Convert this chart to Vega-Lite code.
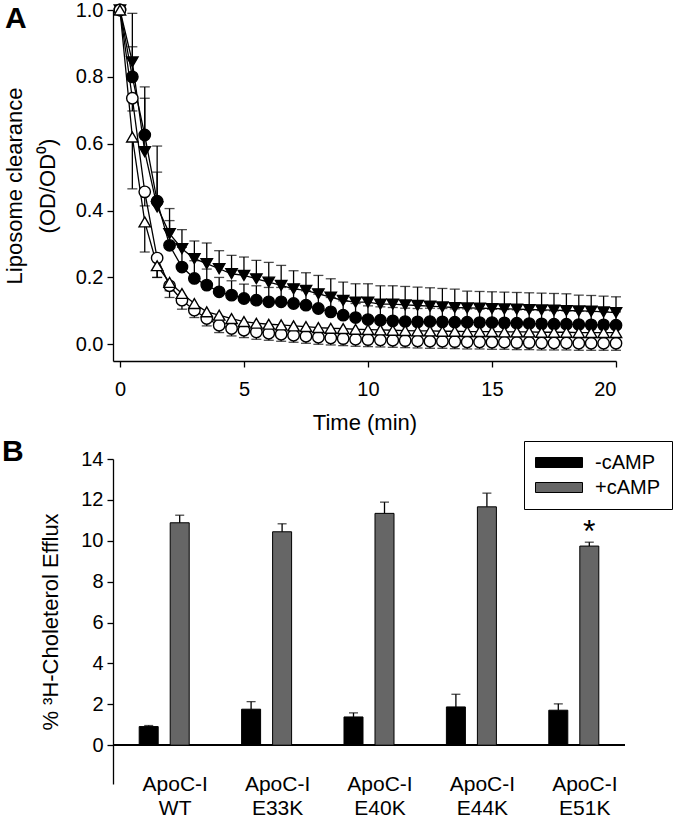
{
"$schema": "https://vega.github.io/schema/vega-lite/v6.json",
"padding": {"left": 2, "top": 0, "right": 2, "bottom": 0},
"spacing": 3,
"resolve": {"scale": {"fill": "independent", "shape": "independent"}, "legend": {"fill": "independent", "shape": "independent"}},
"config": {"font": "Liberation Sans", "view": {"stroke": null},
 "axis": {"domainColor": "black", "tickColor": "black", "labelColor": "black", "titleColor": "black", "labelFontSize": 20, "titleFontSize": 22, "titleFontWeight": "normal", "grid": false, "tickSize": 6, "labelPadding": 4, "domainWidth": 1.3, "tickWidth": 1.3}},
"datasets": {
"curves": [
{"s":"S1","t":0,"v":1.0,"e":1.0},{"s":"S1","t":0.5,"v":0.80,"e":0.99},{"s":"S1","t":1,"v":0.626,"e":0.77},{"s":"S1","t":1.5,"v":0.428,"e":0.593},{"s":"S1","t":2,"v":0.296,"e":0.37},{"s":"S1","t":2.5,"v":0.231,"e":0.29},{"s":"S1","t":3,"v":0.197,"e":0.25},{"s":"S1","t":3.5,"v":0.177,"e":0.225},{"s":"S1","t":4,"v":0.157,"e":0.2},{"s":"S1","t":4.5,"v":0.147,"e":0.19},{"s":"S1","t":5,"v":0.137,"e":0.18},{"s":"S1","t":5.5,"v":0.132,"e":0.175},{"s":"S1","t":6,"v":0.127,"e":0.17},{"s":"S1","t":6.5,"v":0.127,"e":0.17},{"s":"S1","t":7,"v":0.122,"e":0.165},{"s":"S1","t":7.5,"v":0.117,"e":0.16},{"s":"S1","t":8,"v":0.107,"e":0.15},{"s":"S1","t":8.5,"v":0.097,"e":0.14},{"s":"S1","t":9,"v":0.087,"e":0.13},{"s":"S1","t":9.5,"v":0.08,"e":0.122},{"s":"S1","t":10,"v":0.074,"e":0.115},{"s":"S1","t":10.5,"v":0.072,"e":0.112},{"s":"S1","t":11,"v":0.070,"e":0.11},{"s":"S1","t":11.5,"v":0.068,"e":0.108},{"s":"S1","t":12,"v":0.067,"e":0.107},{"s":"S1","t":12.5,"v":0.068,"e":0.108},{"s":"S1","t":13,"v":0.067,"e":0.107},{"s":"S1","t":13.5,"v":0.066,"e":0.106},{"s":"S1","t":14,"v":0.066,"e":0.106},{"s":"S1","t":14.5,"v":0.065,"e":0.105},{"s":"S1","t":15,"v":0.065,"e":0.105},{"s":"S1","t":15.5,"v":0.064,"e":0.104},{"s":"S1","t":16,"v":0.063,"e":0.103},{"s":"S1","t":16.5,"v":0.062,"e":0.102},{"s":"S1","t":17,"v":0.061,"e":0.101},{"s":"S1","t":17.5,"v":0.060,"e":0.1},{"s":"S1","t":18,"v":0.060,"e":0.1},{"s":"S1","t":18.5,"v":0.059,"e":0.099},{"s":"S1","t":19,"v":0.058,"e":0.098},{"s":"S1","t":19.5,"v":0.058,"e":0.098},{"s":"S1","t":20,"v":0.057,"e":0.097},
{"s":"S3","t":0,"v":1.0,"e":1.0},{"s":"S3","t":0.5,"v":0.845,"e":0.89},{"s":"S3","t":1,"v":0.576,"e":0.736},{"s":"S3","t":1.5,"v":0.411,"e":0.515},{"s":"S3","t":2,"v":0.331,"e":0.406},{"s":"S3","t":2.5,"v":0.286,"e":0.343},{"s":"S3","t":3,"v":0.256,"e":0.309},{"s":"S3","t":3.5,"v":0.241,"e":0.303},{"s":"S3","t":4,"v":0.226,"e":0.28},{"s":"S3","t":4.5,"v":0.211,"e":0.266},{"s":"S3","t":5,"v":0.206,"e":0.261},{"s":"S3","t":5.5,"v":0.196,"e":0.251},{"s":"S3","t":6,"v":0.186,"e":0.245},{"s":"S3","t":6.5,"v":0.176,"e":0.236},{"s":"S3","t":7,"v":0.166,"e":0.22},{"s":"S3","t":7.5,"v":0.161,"e":0.214},{"s":"S3","t":8,"v":0.151,"e":0.206},{"s":"S3","t":8.5,"v":0.141,"e":0.196},{"s":"S3","t":9,"v":0.131,"e":0.186},{"s":"S3","t":9.5,"v":0.126,"e":0.181},{"s":"S3","t":10,"v":0.126,"e":0.181},{"s":"S3","t":10.5,"v":0.12,"e":0.175},{"s":"S3","t":11,"v":0.12,"e":0.175},{"s":"S3","t":11.5,"v":0.118,"e":0.173},{"s":"S3","t":12,"v":0.116,"e":0.171},{"s":"S3","t":12.5,"v":0.114,"e":0.169},{"s":"S3","t":13,"v":0.112,"e":0.167},{"s":"S3","t":13.5,"v":0.11,"e":0.165},{"s":"S3","t":14,"v":0.109,"e":0.159},{"s":"S3","t":14.5,"v":0.108,"e":0.158},{"s":"S3","t":15,"v":0.107,"e":0.157},{"s":"S3","t":15.5,"v":0.106,"e":0.156},{"s":"S3","t":16,"v":0.105,"e":0.155},{"s":"S3","t":16.5,"v":0.104,"e":0.154},{"s":"S3","t":17,"v":0.103,"e":0.153},{"s":"S3","t":17.5,"v":0.102,"e":0.152},{"s":"S3","t":18,"v":0.101,"e":0.151},{"s":"S3","t":18.5,"v":0.1,"e":0.147},{"s":"S3","t":19,"v":0.099,"e":0.146},{"s":"S3","t":19.5,"v":0.097,"e":0.144},{"s":"S3","t":20,"v":0.095,"e":0.142},
{"s":"S2","t":0,"v":1.0,"e":1.0},{"s":"S2","t":0.5,"v":0.736,"e":0.698},{"s":"S2","t":1,"v":0.456,"e":0.414},{"s":"S2","t":1.5,"v":0.258,"e":0.2},{"s":"S2","t":2,"v":0.175,"e":0.14},{"s":"S2","t":2.5,"v":0.132,"e":0.105},{"s":"S2","t":3,"v":0.102,"e":0.08},{"s":"S2","t":3.5,"v":0.077,"e":0.055},{"s":"S2","t":4,"v":0.057,"e":0.035},{"s":"S2","t":4.5,"v":0.047,"e":0.025},{"s":"S2","t":5,"v":0.042,"e":0.02},{"s":"S2","t":5.5,"v":0.037,"e":0.015},{"s":"S2","t":6,"v":0.033,"e":0.012},{"s":"S2","t":6.5,"v":0.030,"e":0.009},{"s":"S2","t":7,"v":0.027,"e":0.006},{"s":"S2","t":7.5,"v":0.024,"e":0.003},{"s":"S2","t":8,"v":0.021,"e":0.0},{"s":"S2","t":8.5,"v":0.019,"e":-0.002},{"s":"S2","t":9,"v":0.017,"e":-0.004},{"s":"S2","t":9.5,"v":0.015,"e":-0.006},{"s":"S2","t":10,"v":0.014,"e":-0.007},{"s":"S2","t":10.5,"v":0.013,"e":-0.008},{"s":"S2","t":11,"v":0.012,"e":-0.009},{"s":"S2","t":11.5,"v":0.011,"e":-0.01},{"s":"S2","t":12,"v":0.010,"e":-0.011},{"s":"S2","t":12.5,"v":0.009,"e":-0.012},{"s":"S2","t":13,"v":0.009,"e":-0.012},{"s":"S2","t":13.5,"v":0.008,"e":-0.013},{"s":"S2","t":14,"v":0.007,"e":-0.014},{"s":"S2","t":14.5,"v":0.007,"e":-0.014},{"s":"S2","t":15,"v":0.006,"e":-0.015},{"s":"S2","t":15.5,"v":0.006,"e":-0.015},{"s":"S2","t":16,"v":0.005,"e":-0.016},{"s":"S2","t":16.5,"v":0.005,"e":-0.016},{"s":"S2","t":17,"v":0.004,"e":-0.017},{"s":"S2","t":17.5,"v":0.004,"e":-0.017},{"s":"S2","t":18,"v":0.004,"e":-0.017},{"s":"S2","t":18.5,"v":0.003,"e":-0.018},{"s":"S2","t":19,"v":0.003,"e":-0.018},{"s":"S2","t":19.5,"v":0.003,"e":-0.018},{"s":"S2","t":20,"v":0.003,"e":-0.018},
{"s":"S4","t":0,"v":1.0,"e":1.0},{"s":"S4","t":0.5,"v":0.62,"e":0.465},{"s":"S4","t":1,"v":0.366,"e":0.276},{"s":"S4","t":1.5,"v":0.235,"e":0.2},{"s":"S4","t":2,"v":0.185,"e":0.16},{"s":"S4","t":2.5,"v":0.152,"e":0.125},{"s":"S4","t":3,"v":0.122,"e":0.1},{"s":"S4","t":3.5,"v":0.097,"e":0.08},{"s":"S4","t":4,"v":0.087,"e":0.07},{"s":"S4","t":4.5,"v":0.077,"e":0.06},{"s":"S4","t":5,"v":0.068,"e":0.052},{"s":"S4","t":5.5,"v":0.063,"e":0.047},{"s":"S4","t":6,"v":0.06,"e":0.044},{"s":"S4","t":6.5,"v":0.058,"e":0.042},{"s":"S4","t":7,"v":0.055,"e":0.04},{"s":"S4","t":7.5,"v":0.053,"e":0.038},{"s":"S4","t":8,"v":0.05,"e":0.035},{"s":"S4","t":8.5,"v":0.048,"e":0.033},{"s":"S4","t":9,"v":0.047,"e":0.032},{"s":"S4","t":9.5,"v":0.045,"e":0.03},{"s":"S4","t":10,"v":0.044,"e":0.029},{"s":"S4","t":10.5,"v":0.043,"e":0.028},{"s":"S4","t":11,"v":0.042,"e":0.027},{"s":"S4","t":11.5,"v":0.041,"e":0.026},{"s":"S4","t":12,"v":0.04,"e":0.025},{"s":"S4","t":12.5,"v":0.04,"e":0.025},{"s":"S4","t":13,"v":0.039,"e":0.024},{"s":"S4","t":13.5,"v":0.039,"e":0.024},{"s":"S4","t":14,"v":0.038,"e":0.023},{"s":"S4","t":14.5,"v":0.038,"e":0.023},{"s":"S4","t":15,"v":0.038,"e":0.023},{"s":"S4","t":15.5,"v":0.037,"e":0.022},{"s":"S4","t":16,"v":0.037,"e":0.022},{"s":"S4","t":16.5,"v":0.037,"e":0.022},{"s":"S4","t":17,"v":0.036,"e":0.021},{"s":"S4","t":17.5,"v":0.036,"e":0.021},{"s":"S4","t":18,"v":0.036,"e":0.021},{"s":"S4","t":18.5,"v":0.035,"e":0.02},{"s":"S4","t":19,"v":0.035,"e":0.02},{"s":"S4","t":19.5,"v":0.035,"e":0.02},{"s":"S4","t":20,"v":0.035,"e":0.02}
],
"efflux": [
{"g":"ApoC-I|WT","c":"-cAMP","v":0.91,"hi":0.96,"star":""},
{"g":"ApoC-I|WT","c":"+cAMP","v":10.88,"hi":11.25,"star":""},
{"g":"ApoC-I|E33K","c":"-cAMP","v":1.76,"hi":2.13,"star":""},
{"g":"ApoC-I|E33K","c":"+cAMP","v":10.44,"hi":10.83,"star":""},
{"g":"ApoC-I|E40K","c":"-cAMP","v":1.38,"hi":1.58,"star":""},
{"g":"ApoC-I|E40K","c":"+cAMP","v":11.34,"hi":11.89,"star":""},
{"g":"ApoC-I|E44K","c":"-cAMP","v":1.87,"hi":2.49,"star":""},
{"g":"ApoC-I|E44K","c":"+cAMP","v":11.66,"hi":12.33,"star":""},
{"g":"ApoC-I|E51K","c":"-cAMP","v":1.71,"hi":2.02,"star":""},
{"g":"ApoC-I|E51K","c":"+cAMP","v":9.74,"hi":9.93,"star":"*"}
]
},
"vconcat": [
{
 "width": 503, "height": 351,
 "title": {"text": "A", "anchor": "start", "frame": "group", "orient": "top", "fontSize": 30, "fontWeight": "bold", "baseline": "top", "dx": -108, "offset": -34, "color": "black"},
 "data": {"name": "curves"},
 "layer": [
  {"mark": {"type": "line", "color": "black", "strokeWidth": 1.3},
   "encoding": {
    "x": {"field": "t", "type": "quantitative", "scale": {"domain": [-0.28, 20], "nice": false, "zero": false},
          "axis": {"values": [0, 5, 10, 15, 20], "title": "Time (min)", "labelPadding": 12, "titlePadding": 13}},
    "y": {"field": "v", "type": "quantitative", "scale": {"domain": [-0.05, 1.0], "nice": false, "zero": false},
          "axis": {"values": [0, 0.2, 0.4, 0.6, 0.8, 1.0], "format": ".1f", "title": ["Liposome clearance", "(OD/OD⁰)"], "titleLineHeight": 33, "titlePadding": 16}},
    "detail": {"field": "s", "type": "nominal"}}},
  {"transform": [{"filter": "datum.e != datum.v"}],
   "mark": {"type": "rule", "color": "black", "strokeWidth": 1.3},
   "encoding": {"x": {"field": "t", "type": "quantitative"}, "y": {"field": "v", "type": "quantitative"}, "y2": {"field": "e"}}},
  {"transform": [{"filter": "datum.e != datum.v"}],
   "mark": {"type": "tick", "orient": "horizontal", "size": 10, "thickness": 1.3, "color": "black"},
   "encoding": {"x": {"field": "t", "type": "quantitative"}, "y": {"field": "e", "type": "quantitative"}}},
  {"mark": {"type": "point", "size": 130, "stroke": "black", "strokeWidth": 1.4, "opacity": 1, "fillOpacity": 1},
   "encoding": {
    "x": {"field": "t", "type": "quantitative"}, "y": {"field": "v", "type": "quantitative"},
    "shape": {"field": "s", "type": "nominal", "scale": {"domain": ["S1", "S2", "S3", "S4"], "range": ["circle", "circle", "triangle-down", "triangle-up"]}, "legend": null},
    "fill": {"field": "s", "type": "nominal", "scale": {"domain": ["S1", "S2", "S3", "S4"], "range": ["black", "white", "black", "white"]}, "legend": null}}}
 ]
},
{
 "width": 512, "height": 325,
 "title": {"text": "B", "anchor": "start", "frame": "group", "orient": "top", "fontSize": 30, "fontWeight": "bold", "baseline": "top", "dx": -111, "offset": -26, "color": "black"},
 "data": {"name": "efflux"},
 "layer": [
  {"mark": {"type": "rule", "color": "black", "strokeWidth": 1.3}, "encoding": {"y": {"datum": 0, "type": "quantitative"}}},
  {"mark": {"type": "bar", "stroke": "black", "strokeWidth": 1},
   "encoding": {
    "x": {"field": "g", "type": "nominal", "sort": null, "scale": {"paddingInner": 0, "paddingOuter": 0},
          "axis": {"title": null, "domain": false, "ticks": false, "tickSize": 0, "labelAngle": 0, "labelFontSize": 21, "labelPadding": -11, "labelOffset": 11, "labelLineHeight": 24, "labelExpr": "split(datum.label, '|')"}},
    "xOffset": {"field": "c", "type": "nominal", "sort": null, "scale": {"paddingInner": 0.387, "paddingOuter": 0.845}},
    "y": {"field": "v", "type": "quantitative", "scale": {"domain": [-1.9, 14], "nice": false, "zero": false},
          "axis": {"values": [0, 2, 4, 6, 8, 10, 12, 14], "title": "% ³H-Choleterol Efflux", "titlePadding": 18}},
    "fill": {"field": "c", "type": "nominal", "sort": null, "scale": {"domain": ["-cAMP", "+cAMP"], "range": ["#000000", "#666666"]},
             "legend": {"orient": "none", "legendX": 411, "legendY": -18, "title": null, "symbolType": "M-1,-0.5L3.7,-0.5L3.7,0.5L-1,0.5Z", "symbolSize": 400, "symbolStrokeColor": "black", "symbolStrokeWidth": 1, "labelFontSize": 20, "labelColor": "black", "labelOffset": 39, "strokeColor": "black", "padding": 11, "rowPadding": 4}}}},
  {"mark": {"type": "rule", "color": "black", "strokeWidth": 1.3},
   "encoding": {"x": {"field": "g", "type": "nominal", "sort": null}, "xOffset": {"field": "c", "type": "nominal", "sort": null},
                "y": {"field": "v", "type": "quantitative"}, "y2": {"field": "hi"}}},
  {"mark": {"type": "tick", "size": 9, "thickness": 1.3, "color": "black"},
   "encoding": {"x": {"field": "g", "type": "nominal", "sort": null}, "xOffset": {"field": "c", "type": "nominal", "sort": null},
                "y": {"field": "hi", "type": "quantitative"}}},
  {"transform": [{"filter": "datum.star != ''"}],
   "mark": {"type": "text", "fontSize": 32, "baseline": "alphabetic", "color": "black"},
   "encoding": {"x": {"field": "g", "type": "nominal", "sort": null}, "xOffset": {"field": "c", "type": "nominal", "sort": null},
                "y": {"field": "hi", "type": "quantitative"}, "text": {"field": "star"}}}
 ]
}
]
}
